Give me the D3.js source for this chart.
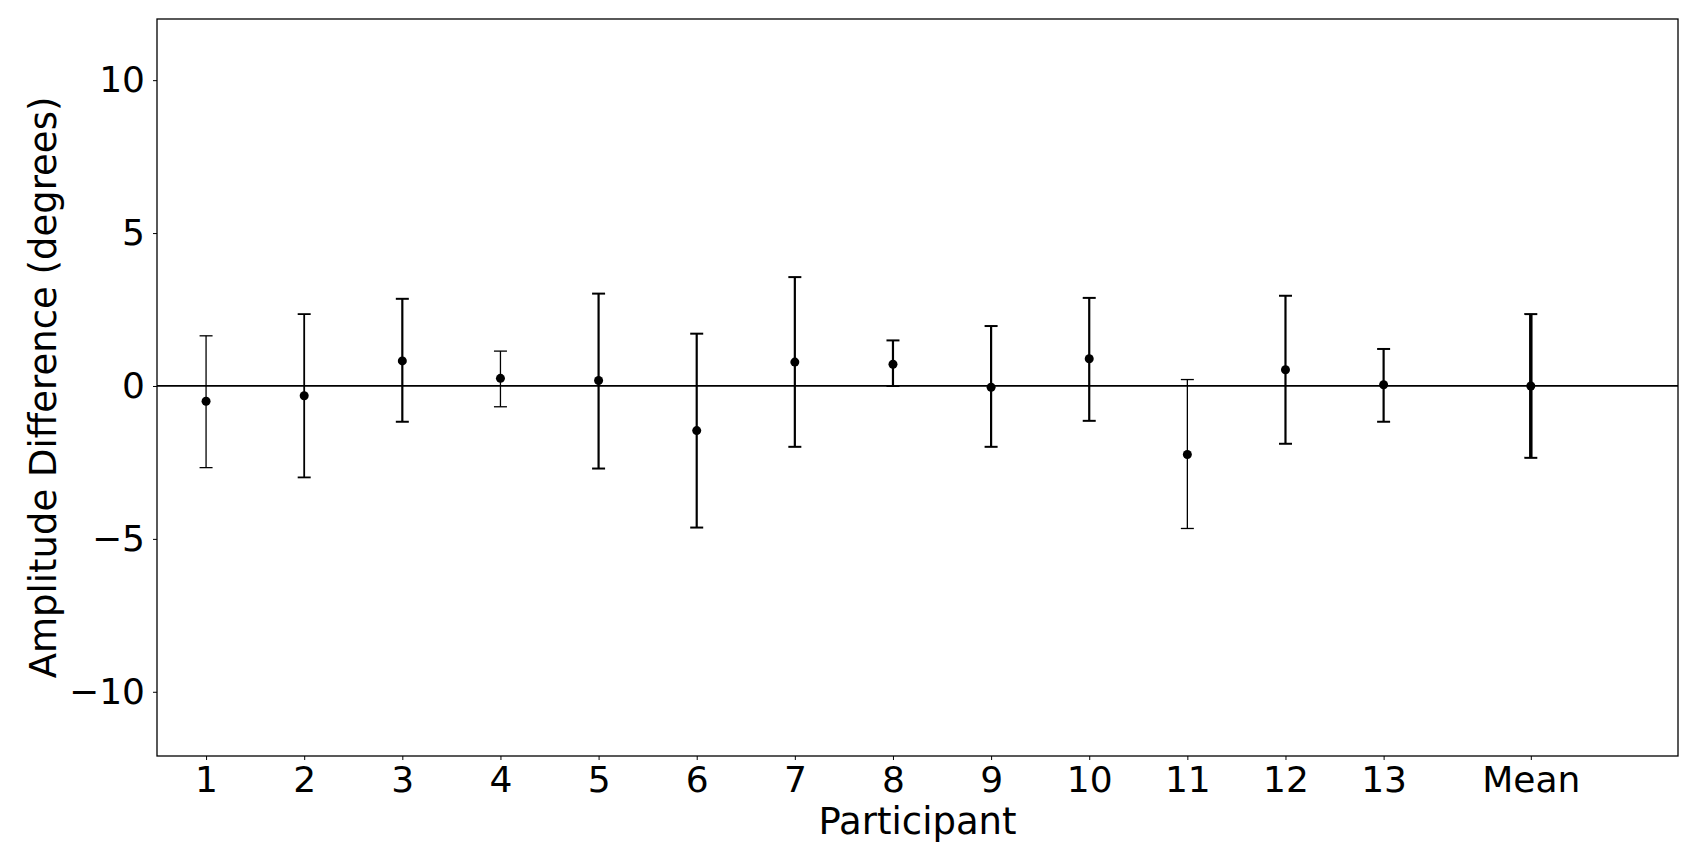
<!DOCTYPE html>
<html><head><meta charset="utf-8">
<script src="https://cdn.jsdelivr.net/npm/d3@7"></script>
<style>body{margin:0;background:#fff}text{font-family:"DejaVu Sans",sans-serif}</style>
</head><body><svg id="c" width="1697" height="863"></svg>
<script>
const participants = ["1","2","3","4","5","6","7","8","9","10","11","12","13","Mean"]
const xpos = [1,2,3,4,5,6,7,8,9,10,11,12,13,14.5]
const means = [-0.5,-0.32,0.82,0.25,0.18,-1.46,0.78,0.71,-0.04,0.89,-2.24,0.53,0.04,0]
const upper = [1.64,2.35,2.85,1.14,3.02,1.71,3.56,1.49,1.96,2.88,0.21,2.95,1.21,2.35]
const lower = [-2.67,-2.99,-1.17,-0.68,-2.7,-4.63,-1.99,0,-1.99,-1.14,-4.66,-1.89,-1.17,-2.35]
const widths = [1.3,1.8,2.2,1.3,2.2,2.2,2.2,2.2,2.2,2.2,1.3,2.2,2.2,3.5]
const yTicks = [-10,-5,0,5,10]

const svg = d3.select('#c')
const L = 157, R = 1678, T = 19, B = 756
const x = d3.scaleLinear().domain([0.5,16]).range([L,R])
const y = d3.scaleLinear().domain([-12.1,12]).range([B,T])

// zero line
svg.append('line').attr('x1',L).attr('x2',R).attr('y1',y(0)).attr('y2',y(0))
  .attr('stroke','#000').attr('stroke-width',1.8)

const g = svg.selectAll('g.pt').data(participants).enter().append('g')
g.append('line')
  .attr('x1',(d,i)=>x(xpos[i])).attr('x2',(d,i)=>x(xpos[i]))
  .attr('y1',(d,i)=>y(lower[i])).attr('y2',(d,i)=>y(upper[i]))
  .attr('stroke','#000').attr('stroke-width',(d,i)=>widths[i])
;[upper,lower].forEach(arr=>{
  g.append('line')
    .attr('x1',(d,i)=>x(xpos[i])-6.5).attr('x2',(d,i)=>x(xpos[i])+6.5)
    .attr('y1',(d,i)=>y(arr[i])).attr('y2',(d,i)=>y(arr[i]))
    .attr('stroke','#000').attr('stroke-width',(d,i)=>Math.min(widths[i],2))
})
g.append('circle').attr('cx',(d,i)=>x(xpos[i])).attr('cy',(d,i)=>y(means[i])).attr('r',4.5)

// axes
const xa = svg.append('g').attr('transform',`translate(0,${B})`)
  .call(d3.axisBottom(x).tickValues(xpos).tickFormat((d,i)=>participants[i]).tickSize(4).tickPadding(6))
const ya = svg.append('g').attr('transform',`translate(${L},0)`)
  .call(d3.axisLeft(y).tickValues(yTicks).tickFormat(d=>d<0?'\u2212'+(-d):d).tickSize(4).tickPadding(8))
;[xa,ya].forEach(a=>{a.selectAll('text').attr('font-size',36).attr('fill','#000');a.select('.domain').remove()})
svg.append('rect').attr('x',L).attr('y',T).attr('width',R-L).attr('height',B-T)
  .attr('fill','none').attr('stroke','#000').attr('stroke-width',1.3)

svg.append('text').attr('x',(L+R)/2).attr('y',834).attr('text-anchor','middle').attr('font-size',37).text('Participant')
svg.append('text').attr('transform',`translate(56,${(T+B)/2}) rotate(-90)`).attr('text-anchor','middle')
  .attr('font-size',37).text('Amplitude Difference (degrees)')
</script></body></html>
